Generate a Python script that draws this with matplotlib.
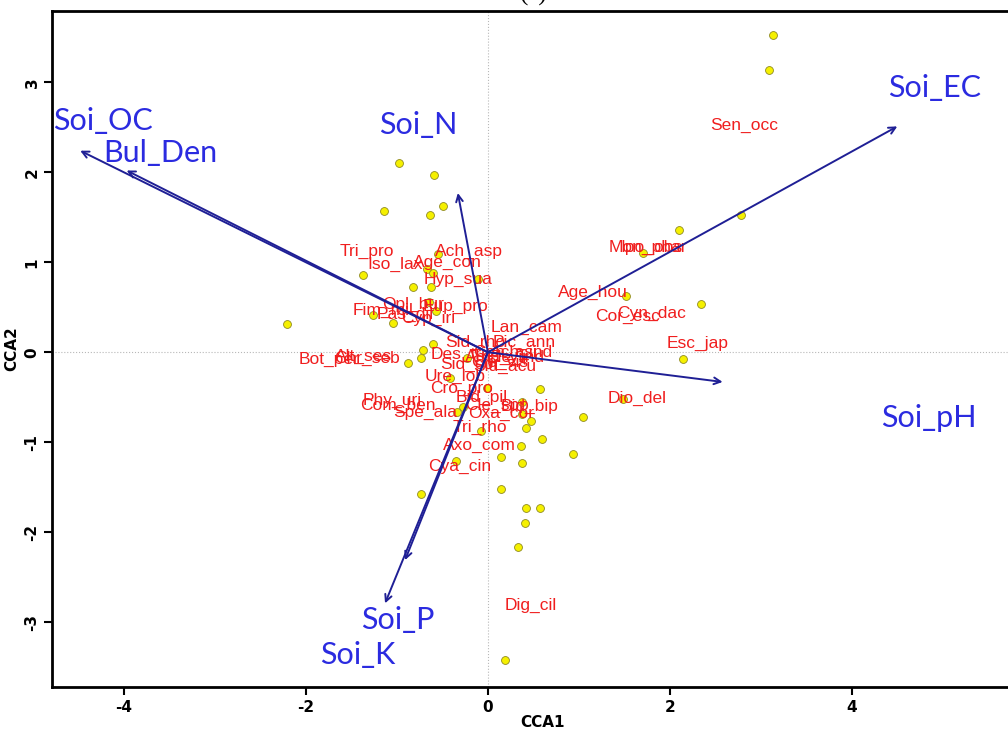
import matplotlib
matplotlib.use('Agg')
import matplotlib.pyplot as plt

'''
Site / species scores
'''
site_x = [3.13, 3.09, 2.78, 2.10, 1.70, 2.34, 1.52, 2.14, 1.48, 1.05, 0.57, 0.60,
          -0.42, -0.01, 0.37, -0.27, -0.34, 0.38, 0.47, 0.42, -0.08, 0.36, 0.14,
          0.94, -0.35, 0.38, 0.14, -0.74, 0.42, 0.57, 0.41, 0.33, 0.19,
          -0.55, -1.37, -0.67, -0.60, -0.82, -0.63, -0.65, -1.26, -1.04, -2.21,
          -0.60, -0.71, -0.73, -0.88, -0.98, -0.59, -1.14, -0.64, -0.49,
          -0.23, -0.57, -0.11]
site_y = [3.53, 3.14, 1.52, 1.36, 1.10, 0.54, 0.62, -0.07, -0.52, -0.72, -0.41, -0.96,
          -0.29, -0.40, -0.55, -0.61, -0.66, -0.69, -0.76, -0.84, -0.88, -1.04, -1.16,
          -1.13, -1.21, -1.23, -1.52, -1.58, -1.73, -1.73, -1.90, -2.16, -3.42,
          1.09, 0.86, 0.92, 0.88, 0.72, 0.73, 0.56, 0.41, 0.33, 0.31,
          0.09, 0.02, -0.06, -0.12, 2.10, 1.97, 1.57, 1.52, 1.63,
          -0.06, 0.46, 0.81]

sp_names = ['Sen_occ', 'Mon_phar', 'Ipo_obs', 'Age_hou', 'Cyn_dac', 'Cor_esc',
            'Esc_jap', 'Dio_del', 'Dig_cil', 'Tri_pro', 'Ach_asp', 'Iso_lax',
            'Age_con', 'Hyp_sua', 'Opl_bur', 'Eup_pro', 'Fim_mil', 'Pas_dil',
            'Cyp_iri', 'Lan_cam', 'Sid_rho', 'Pic_ann', 'Des_tri', 'Sid_cor',
            'Ele_ind', 'Cen_asi', 'Ama_vir', 'Ach_ind', 'Cle_vis', 'Sid_acu',
            'Bot_per', 'Alt_ses', 'Chr_seb', 'Ure_lob', 'Cro_pro', 'Bid_pil',
            'Phy_uri', 'Com_ben', 'Spe_ala', 'Cle_spp', 'Bid_bip', 'Oxa_cor',
            'Tri_rho', 'Axo_com', 'Cya_cin']
sp_x = [2.82, 1.76, 1.80, 1.15, 1.80, 1.53,
        2.30, 1.64, 0.47, -1.33, -0.21, -1.02,
        -0.44, -0.33, -0.82, -0.36, -1.15, -0.91,
        -0.66, 0.43, -0.14, 0.40, -0.33, -0.20,
        0.30, 0.19, 0.10, 0.37, 0.13, 0.19,
        -1.75, -1.37, -1.33, -0.36, -0.29, -0.07,
        -1.05, -0.99, -0.69, 0.10, 0.46, 0.15,
        -0.09, -0.09, -0.31]
sp_y = [2.52, 1.16, 1.16, 0.67, 0.43, 0.40,
        0.10, -0.51, -2.81, 1.12, 1.12, 0.98,
        1.00, 0.81, 0.53, 0.51, 0.47, 0.42,
        0.38, 0.28, 0.11, 0.11, -0.02, -0.13,
        -0.06, 0.00, -0.06, 0.00, -0.11, -0.16,
        -0.08, -0.05, -0.07, -0.27, -0.40, -0.50,
        -0.53, -0.59, -0.67, -0.59, -0.60, -0.68,
        -0.83, -1.04, -1.27]

'''
Environmental vectors
'''
env_names = ['Soi_OC', 'Bul_Den', 'Soi_N', 'Soi_EC', 'Soi_pH', 'Soi_P', 'Soi_K']
env_x = [-4.48, -3.97, -0.33, 4.50, 2.58, -1.13, -0.91]
env_y = [2.24, 2.02, 1.77, 2.51, -0.33, -2.79, -2.31]
env_lab_x = [-4.23, -3.60, -0.77, 4.91, 4.85, -0.99, -1.43]
env_lab_y = [2.57, 2.22, 2.53, 2.94, -0.73, -2.98, -3.36]

xticks = [-4, -2, 0, 2, 4]
yticks = [-3, -2, -1, 0, 1, 2, 3]

fig = plt.figure(figsize=(10.08, 7.29), dpi=100)
ax = fig.add_axes([0.0516, 0.0576, 0.974, 0.927])
ax.set_xlim(-4.79, 6.0)
ax.set_ylim(-3.72, 3.79)

ax.axhline(0, color='#b8b8b8', lw=0.8, ls=':', zorder=0)
ax.axvline(0, color='#b8b8b8', lw=0.8, ls=':', zorder=0)

ax.scatter(site_x, site_y, s=32, c='#f5f000', edgecolors='#8f8a20', lw=0.6, zorder=2)

for name, x, y in zip(sp_names, sp_x, sp_y):
    ax.text(x, y, name, color='#f01e1e', fontsize=12.5, family='Liberation Sans',
            ha='center', va='center', zorder=3)

for x, y in zip(env_x, env_y):
    ax.annotate('', xy=(x, y), xytext=(0, 0),
                arrowprops=dict(arrowstyle='->', color='#1f1f95', lw=1.4,
                                shrinkA=0, shrinkB=0, mutation_scale=12),
                zorder=4)

for name, x, y in zip(env_names, env_lab_x, env_lab_y):
    ax.text(x, y, name, color='#2b2be0', fontsize=22, family='Lato',
            ha='center', va='center', zorder=5)

ax.set_xticks(xticks)
ax.set_yticks(yticks)
tick_font = ['Liberation Sans Narrow', 'DejaVu Sans']
ax.set_xticklabels([str(t) for t in xticks], fontsize=11, fontweight='bold', family=tick_font)
ax.set_yticklabels([str(t) for t in yticks], fontsize=11, fontweight='bold', family=tick_font,
                   rotation=90, va='center')
ax.tick_params(direction='out', length=6, width=1.5, pad=3)
for side in ['left', 'bottom', 'top', 'right']:
    ax.spines[side].set_linewidth(2)
ax.set_xlabel('CCA1', fontsize=11, fontweight='bold', family=tick_font, labelpad=0)
ax.set_ylabel('CCA2', fontsize=11, fontweight='bold', family=tick_font, labelpad=4)

fig.text(0.53, 1.008, '(a)', fontsize=18, ha='center', va='center', family='Liberation Serif')

fig.savefig('out.png', dpi=100)
